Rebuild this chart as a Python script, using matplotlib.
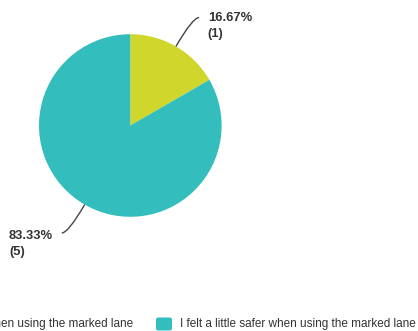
import numpy as np
import matplotlib
matplotlib.use("Agg")
import matplotlib.pyplot as plt
from matplotlib.path import Path
from matplotlib.patches import PathPatch, FancyBboxPatch

plt.rcParams["font.family"] = ["Liberation Sans", "DejaVu Sans"]

# Survey answers
categories = [
    "I felt much safer when using the marked lane",
    "I felt a little safer when using the marked lane",
]
counts = [1, 5]
percent_labels = ["16.67%", "83.33%"]
colors = ["#d0d62b", "#33bdbd"]

W, H = 418, 331
fig = plt.figure(figsize=(W / 100, H / 100), dpi=100)

# pie geometry in pixels (from top-left)
cx, cy, r = 130.3, 125.5, 91.3
ax = fig.add_axes([(cx - r) / W, (H - cy - r) / H, 2 * r / W, 2 * r / H])
wedges, _ = ax.pie(counts, colors=colors, startangle=90, counterclock=False,
                   radius=1.0, wedgeprops=dict(linewidth=0))
ax.set_xlim(-1, 1)
ax.set_ylim(-1, 1)
ax.set_aspect("equal")
ax.axis("off")

# leader line end heights and text top (px)
label_y = [17.5, 233.0]
text_top = [12.0, 230.0]
for w, cnt, pct, ly, tt in zip(wedges, counts, percent_labels, label_y, text_top):
    mid = np.deg2rad((w.theta1 + w.theta2) / 2)
    p0 = np.array([np.cos(mid), np.sin(mid)])
    ty = (cy - ly) / r
    t = (ty - p0[1]) / np.sin(mid)
    ctrl = p0 + t * np.array([np.cos(mid), np.sin(mid)])
    side = 1 if np.cos(mid) > 0 else -1
    end = ctrl + np.array([side * 6.5 / r, 0])
    path = Path([p0, ctrl, end], [Path.MOVETO, Path.CURVE3, Path.CURVE3])
    ax.add_patch(PathPatch(path, facecolor="none", edgecolor="#444444",
                           linewidth=1.0, clip_on=False))
    tx = end[0] + side * 8.5 / r
    ax.text(tx, (cy - tt) / r, f"{pct}\n({cnt})", ha="left" if side > 0 else "right",
            va="top", multialignment="left", fontsize=9.4, fontweight="bold",
            color="#333333", linespacing=1.45,
            transform=ax.transData, clip_on=False)

# legend row along the bottom
leg_y = 324.0
leg_fs = 8.5
sw_w, sw_h = 16, 13
entries_x = [-110.0, 156.0]  # swatch left edges (px)
for x0, lab, col in zip(entries_x, categories, colors):
    fig.add_artist(FancyBboxPatch(
        (x0 / W, (H - leg_y - sw_h / 2) / H), sw_w / W, sw_h / H,
        boxstyle="round,pad=0,rounding_size=0.006",
        transform=fig.transFigure, facecolor=col, edgecolor="none"))
fig.text(133 / W, (H - leg_y) / H, categories[0], ha="right", va="center",
         fontsize=leg_fs, color="#333333")
fig.text(180 / W, (H - leg_y) / H, categories[1], ha="left", va="center",
         fontsize=leg_fs, color="#333333")

fig.savefig("out.png", dpi=100)
